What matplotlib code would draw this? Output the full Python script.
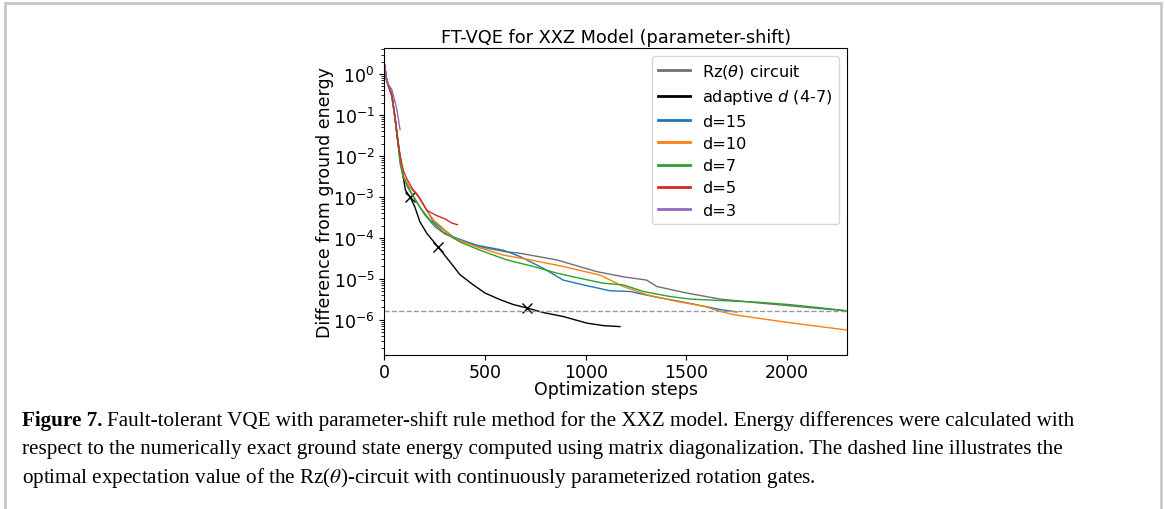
import numpy as np
import matplotlib
matplotlib.use("Agg")
import matplotlib.pyplot as plt
from matplotlib.lines import Line2D

# --- data (optimization step, energy difference) ---
rz_x = [0, 12, 37, 53, 65, 78, 94, 120, 150, 200, 250, 300, 400, 500, 600, 674, 856, 1055, 1187, 1303,
        1353, 1502, 1668, 1850, 2012, 2150, 2300]
rz_y = [1.8, 0.68, 0.3, 0.085, 0.027, 0.009, 0.003, 0.0016, 0.0009, 0.00037, 0.00019, 0.000125,
        7.8e-5, 5.7e-5, 4.6e-5, 4.2e-5, 2.9e-5, 1.5e-5, 1.12e-5, 9.3e-6, 6.5e-6, 4.5e-6, 3.2e-6,
        2.6e-6, 2.2e-6, 1.9e-6, 1.65e-6]

ad_x = [0, 12, 37, 53, 65, 78, 94, 105, 128, 152, 177, 211, 268, 326, 376, 442, 500, 575, 641, 707,
        790, 889, 1005, 1088, 1171]
ad_y = [1.8, 0.68, 0.32, 0.087, 0.028, 0.0093, 0.003, 0.00145, 0.001, 0.00056, 0.000245, 0.000129,
        5.9e-5, 2.6e-5, 1.26e-5, 7.1e-6, 4.5e-6, 3.1e-6, 2.35e-6, 1.95e-6, 1.5e-6, 1.2e-6, 8.3e-7,
        7.2e-7, 6.8e-7]
ad_marks_x = [128, 268, 707]
ad_marks_y = [0.001, 5.9e-5, 1.95e-6]

d15_x = [0, 12, 37, 53, 65, 78, 94, 119, 161, 211, 243, 343, 459, 591, 674, 790, 889, 989, 1121, 1221,
         1336, 1502, 1668, 1750]
d15_y = [1.8, 0.68, 0.3, 0.085, 0.028, 0.0095, 0.0032, 0.0019, 0.0012, 0.00047, 0.00025, 0.000105,
         6.6e-5, 5.0e-5, 3.5e-5, 1.8e-5, 9.3e-6, 7.1e-6, 5.1e-6, 4.9e-6, 3.7e-6, 2.6e-6, 1.78e-6,
         1.55e-6]

d10_x = [0, 12, 37, 53, 65, 78, 94, 119, 161, 211, 243, 343, 459, 591, 724, 889, 1072, 1187, 1303,
         1453, 1585, 1668, 1746, 2012, 2300]
d10_y = [1.8, 0.68, 0.3, 0.085, 0.028, 0.0095, 0.0032, 0.0019, 0.0012, 0.00047, 0.00028, 0.0001,
         6.0e-5, 3.8e-5, 2.9e-5, 2.0e-5, 1.23e-5, 6.5e-6, 4.1e-6, 2.8e-6, 2.15e-6, 1.6e-6, 1.3e-6,
         8.5e-7, 5.6e-7]

d7_x = [0, 12, 37, 53, 65, 78, 94, 119, 177, 227, 293, 376, 475, 608, 740, 856, 956, 1088, 1187, 1287,
        1419, 1519, 1668, 1850, 2012, 2150, 2300]
d7_y = [1.8, 0.68, 0.3, 0.085, 0.026, 0.0065, 0.003, 0.0017, 0.00056, 0.00027, 0.00014, 7.9e-5,
        5.0e-5, 2.9e-5, 2.0e-5, 1.38e-5, 1.07e-5, 7.8e-6, 7.1e-6, 4.9e-6, 3.7e-6, 3.2e-6, 2.95e-6,
        2.7e-6, 2.35e-6, 2.0e-6, 1.65e-6]

d5_x = [0, 12, 37, 53, 65, 78, 94, 111, 144, 177, 211, 260, 302, 335, 363]
d5_y = [1.8, 0.68, 0.3, 0.09, 0.03, 0.0105, 0.0045, 0.0028, 0.00145, 0.00091, 0.00047, 0.00035,
        0.00029, 0.00023, 0.00021]

d3_x = [0, 8, 20, 37, 48, 62, 78]
d3_y = [1.8, 0.9, 0.56, 0.42, 0.26, 0.14, 0.044]

rz_opt = 1.6e-6

caption = [
    "Fault-tolerant VQE with parameter-shift rule method for the XXZ model. Energy differences were calculated with",
    "respect to the numerically exact ground state energy computed using matrix diagonalization. The dashed line illustrates the",
    r"optimal expectation value of the Rz($\theta$)-circuit with continuously parameterized rotation gates.",
]

plt.rcParams["font.size"] = 12.5

fig = plt.figure(figsize=(11.65, 5.10), dpi=100)
ax = fig.add_axes([0.3299, 0.3025, 0.3974, 0.602])

ax.plot(rz_x, rz_y, color="#707070", lw=1, label=r"Rz($\theta$) circuit")
ax.plot(ad_x, ad_y, color="black", lw=1, label=r"adaptive $d$ (4-7)")
ax.plot(ad_marks_x, ad_marks_y, "x", color="black", ms=7, mew=1)
ax.plot(d15_x, d15_y, color="tab:blue", lw=1, label="d=15")
ax.plot(d10_x, d10_y, color="tab:orange", lw=1, label="d=10")
ax.plot(d7_x, d7_y, color="tab:green", lw=1, label="d=7")
ax.plot(d5_x, d5_y, color="tab:red", lw=1, label="d=5")
ax.plot(d3_x, d3_y, color="tab:purple", lw=1, label="d=3")
ax.axhline(rz_opt, color="#999999", lw=1, ls="--")

ax.set_yscale("log")
ax.set_xlim(0, 2300)
ax.set_ylim(1.4e-7, 4.4)
ax.tick_params(axis="x", pad=2.5)
ax.set_title("FT-VQE for XXZ Model (parameter-shift)", fontsize=12.8, pad=4)
ax.set_xlabel("Optimization steps", labelpad=-1)
ax.set_ylabel("Difference from ground energy", labelpad=-1)

leg = ax.legend(loc="upper right", fontsize=11.6, handlelength=2.0, handletextpad=0.75,
                borderpad=0.4, labelspacing=0.45)
for h in leg.get_lines():
    h.set_linewidth(2)

# frame of the page
for xs, ys in [([0.0046, 0.0046], [0.0, 0.992]), ([0.0046, 0.9966], [0.992, 0.992]),
               ([0.9966, 0.9966], [0.992, 0.0])]:
    fig.add_artist(Line2D(xs, ys, color="#c8c8c8", lw=2, transform=fig.transFigure))

# caption
fig.canvas.draw()
r = fig.canvas.get_renderer()
cap_size = 15.2
t = fig.text(0.019, 1 - 421 / 510, "Figure 7.", family="Liberation Serif", weight="bold",
             fontsize=cap_size, va="center")
bb = t.get_window_extent(r)
fig.text((bb.x1 + 4) / fig.bbox.width, 1 - 421 / 510, caption[0], family="Liberation Serif",
         fontsize=cap_size, va="center")
for i, line in enumerate(caption[1:]):
    fig.text(0.019, 1 - (449.5 + 28.5 * i) / 510, line, family="Liberation Serif",
             fontsize=cap_size, va="center", math_fontfamily="stix")

fig.savefig("out.png", dpi=100)
